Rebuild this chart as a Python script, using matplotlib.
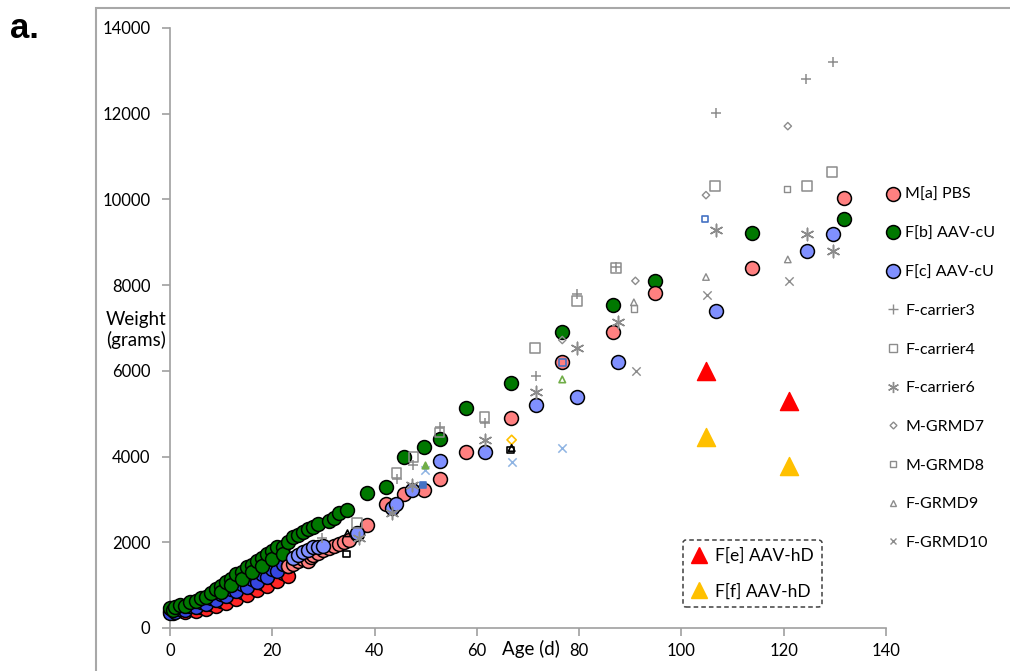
import numpy as np
import matplotlib.pyplot as plt
from matplotlib.lines import Line2D
from matplotlib.patches import Rectangle

plt.rcParams['font.family'] = ['Lato', 'DejaVu Sans']

# ---- data (age in days, weight in grams) ----
# M[a] PBS
pbs_early_age = [0, 0.5, 1, 2, 3, 4, 5, 6, 7, 8, 9, 10, 11, 12, 13, 14, 15, 16,
                 17, 18, 19, 20, 21, 22, 23]
pbs_early_w = [400, 360, 420, 420, 380, 440, 400, 480, 450, 560, 510, 640, 580,
               740, 680, 840, 780, 950, 880, 1060, 980, 1180, 1100, 1290, 1220]
pbs_age = [23, 24, 25, 26, 27, 27.5, 28, 29, 30, 31, 32, 33, 34, 35, 36.5, 38.6,
           42.3, 45.7, 49.6, 52.7, 57.8, 66.7, 76.7, 86.6, 94.8, 113.8, 131.7]
pbs_w = [1440, 1500, 1560, 1610, 1560, 1650, 1700, 1760, 1820, 1870, 1920, 1960,
         2000, 2050, 2200, 2400, 2900, 3130, 3220, 3480, 4110, 4900, 6200, 6900,
         7820, 8400, 10030]

# F[b] AAV-cU
cub_age = [0, 0.5, 1, 2, 3, 4, 5, 6, 7, 8, 9, 10, 10, 11, 12, 12, 13, 14, 14, 15,
           16, 16, 17, 18, 18, 19, 20, 20, 21, 22, 22, 23, 24, 25, 26, 27, 28, 29,
           31, 32, 33, 34.7, 38.6, 42.3, 45.7, 49.6, 52.7, 57.8, 66.7, 76.7, 86.6,
           94.8, 113.8, 131.7]
cub_w = [470, 430, 500, 540, 520, 600, 620, 700, 720, 820, 900, 980, 850, 1080,
         1150, 1000, 1250, 1300, 1150, 1420, 1480, 1300, 1560, 1640, 1450, 1720,
         1800, 1600, 1880, 1900, 1720, 2000, 2130, 2180, 2250, 2300, 2360, 2420,
         2500, 2560, 2680, 2750, 3150, 3300, 3990, 4220, 4410, 5130, 5720, 6900,
         7540, 8100, 9220, 9540]

# F[c] AAV-cU
cuc_early_age = [0, 0.5, 1, 2, 3, 4, 5, 6, 7, 8, 9, 10, 11, 12, 13, 14, 15, 16,
                 17, 18, 19, 20, 21, 22, 23]
cuc_early_w = [350, 420, 380, 450, 430, 520, 480, 600, 560, 700, 650, 800, 750,
               920, 860, 1020, 960, 1140, 1080, 1260, 1200, 1380, 1320, 1500, 1440]
cuc_age = [24, 25, 26, 27, 28, 29, 30, 36.5, 43.5, 44.1, 47.4, 52.7, 61.5, 71.6,
           79.6, 87.6, 106.7, 124.5, 129.6]
cuc_w = [1640, 1700, 1780, 1830, 1880, 1900, 1920, 2210, 2800, 2900, 3220, 3900,
         4110, 5200, 5390, 6200, 7400, 8800, 9190]

# carriers and GRMD dogs
car3_age = [29.7, 44.3, 47.6, 52.7, 61.5, 71.6, 79.6, 87.2, 106.7, 124.3, 129.6]
car3_w = [2100, 3480, 3800, 4700, 4780, 5880, 7790, 8420, 12020, 12800, 13200]
car4_age = [36.5, 44.3, 47.6, 52.7, 61.5, 71.4, 79.6, 87.2, 106.5, 124.5, 129.4]
car4_w = [2450, 3620, 3990, 4560, 4920, 6530, 7630, 8400, 10310, 10310, 10640]
car6_age = [36.9, 43.5, 47.4, 61.5, 71.6, 79.6, 87.6, 106.7, 124.5, 129.6]
car6_w = [2100, 2690, 3340, 4390, 5510, 6530, 7140, 9290, 9190, 8800]
grmd7_age = [76.7, 91.0, 104.8, 120.8]
grmd7_w = [6720, 8100, 10100, 11710]
grmd8_age = [90.7, 120.6]
grmd8_w = [7450, 10240]
grmd9_age = [90.7, 104.8, 120.8]
grmd9_w = [7600, 8190, 8600]
grmd10_age = [91.1, 105.0, 121.0]
grmd10_w = [6000, 7780, 8100]

# odd coloured single readings
odd_age = [66.8, 66.8, 66.6, 66.8, 76.7, 49.8, 76.7, 49.8, 49.4, 76.7, 104.6, 34.5, 34.7]
odd_w = [4390, 4200, 4150, 3870, 4200, 3690, 5800, 3800, 3340, 6200, 9540, 1730, 2210]
odd_mk = ['D', '^', 's', 'x', 'x', 'x', '^', '^', 's', 's', 's', 's', '^']
odd_col = ['#ffc000', 'black', 'black', '#8fb4e3', '#8fb4e3', '#8fb4e3', '#70ad47',
           '#70ad47', '#4472c4', '#4472c4', '#4472c4', 'black', 'black']
odd_fill = [False, False, False, False, False, False, False, True, True, False,
            False, False, False]

# AAV-hD
hde_age = [104.8, 121.0]
hde_w = [6000, 5300]
hdf_age = [104.8, 121.0]
hdf_w = [4460, 3780]

pink = '#ff8080'
green = '#007800'
blue = '#8090ff'
gray = '#8c8c8c'

fig = plt.figure(figsize=(10.1, 6.71), dpi=100)
ax = fig.add_axes([170/1010, 1-628/671, 716/1010, 600/671])

circ = dict(marker='o', s=100, edgecolors='black', linewidths=1.1, clip_on=False, zorder=3)
ax.scatter(pbs_early_age, pbs_early_w, c='#ff2525', **circ)
ax.scatter(cuc_early_age, cuc_early_w, c='#3546e0', **circ)
ax.scatter(cub_age, cub_w, c=green, **circ)
ax.scatter(pbs_age, pbs_w, c=pink, **circ)
ax.scatter(cuc_age, cuc_w, c=blue, **circ)

ax.scatter(car3_age, car3_w, marker='+', s=60, c=gray, linewidths=1.1, zorder=4)
ax.scatter(car4_age, car4_w, marker='s', s=50, facecolors='none', edgecolors=gray, linewidths=1.1, zorder=4)
ax.scatter(car6_age, car6_w, marker=(6, 2, 0), s=80, c=gray, linewidths=1.1, zorder=4)
ax.scatter(grmd7_age, grmd7_w, marker='D', s=14, facecolors='none', edgecolors=gray, linewidths=1, zorder=4)
ax.scatter(grmd8_age, grmd8_w, marker='s', s=22, facecolors='none', edgecolors=gray, linewidths=1, zorder=4)
ax.scatter(grmd9_age, grmd9_w, marker='^', s=22, facecolors='none', edgecolors=gray, linewidths=1, zorder=4)
ax.scatter(grmd10_age, grmd10_w, marker='x', s=36, c=gray, linewidths=1, zorder=4)
for a, w, m, c, f in zip(odd_age, odd_w, odd_mk, odd_col, odd_fill):
    if m == 'x':
        ax.scatter(a, w, marker=m, s=36, c=c, linewidths=1.1, zorder=5)
    else:
        ax.scatter(a, w, marker=m, s=22, facecolors=c if f else 'none', edgecolors=c,
                   linewidths=1.2, zorder=5)

ax.scatter(hde_age, hde_w, marker='^', s=170, c='#ff0000', zorder=4)
ax.scatter(hdf_age, hdf_w, marker='^', s=170, c='#ffc000', zorder=4)

ax.set_xlim(0, 140)
ax.set_ylim(0, 14000)
ax.set_xticks(np.arange(0, 141, 20))
ax.set_yticks(np.arange(0, 14001, 2000))
for s in ['top', 'right']:
    ax.spines[s].set_visible(False)
for s in ['left', 'bottom']:
    ax.spines[s].set_color('#a0a0a0')
    ax.spines[s].set_linewidth(1.2)
ax.tick_params(axis='both', direction='out', length=6, width=1.2, color='#a0a0a0',
               labelsize=12)
ax.tick_params(axis='y', pad=8)
ax.tick_params(axis='x', pad=5)

fig.text(531/1010, 1-649/671, 'Age (d)', fontsize=13.5, ha='center', va='center',
         bbox=dict(facecolor='white', edgecolor='none', pad=1))
fig.text(136/1010, 1-330/671, 'Weight\n(grams)', fontsize=13.5, ha='center', va='center',
         linespacing=1.15)
fig.text(10/1010, 1-28/671, 'a.', fontsize=25, fontweight='bold', ha='left', va='center',
         family=['Liberation Sans', 'DejaVu Sans'])

# frame around the panel
fig.add_artist(Rectangle((96/1010, -0.02), 1.0, 1-8/671 + 0.02, transform=fig.transFigure,
                         facecolor='none', edgecolor='#a8a8a8', linewidth=1.5))

h1 = [
    Line2D([], [], ls='none', marker='o', ms=10, mfc=pink, mec='black', mew=1.1),
    Line2D([], [], ls='none', marker='o', ms=10, mfc=green, mec='black', mew=1.1),
    Line2D([], [], ls='none', marker='o', ms=10, mfc=blue, mec='black', mew=1.1),
    Line2D([], [], ls='none', marker='+', ms=7, mec=gray, mew=1),
    Line2D([], [], ls='none', marker='s', ms=6, mfc='none', mec=gray, mew=1),
    Line2D([], [], ls='none', marker=(6, 2, 0), ms=8, mec=gray, mew=1),
    Line2D([], [], ls='none', marker='D', ms=3.5, mfc='none', mec=gray, mew=1),
    Line2D([], [], ls='none', marker='s', ms=4.5, mfc='none', mec=gray, mew=1),
    Line2D([], [], ls='none', marker='^', ms=4.5, mfc='none', mec=gray, mew=1),
    Line2D([], [], ls='none', marker='x', ms=5, mec=gray, mew=1),
]
l1 = ['M[a] PBS', 'F[b] AAV-cU', 'F[c] AAV-cU', 'F-carrier3', 'F-carrier4', 'F-carrier6',
      'M-GRMD7', 'M-GRMD8', 'F-GRMD9', 'F-GRMD10']
fig.legend(h1, l1, loc='upper left', bbox_to_anchor=(887/1010, 1-188/671), frameon=False,
           fontsize=11.5, labelspacing=1.53, handlelength=0.8, handletextpad=0.35,
           borderpad=0, borderaxespad=0)

h2 = [Line2D([], [], ls='none', marker='^', ms=12, mfc='#ff0000', mec='#ff0000'),
      Line2D([], [], ls='none', marker='^', ms=12, mfc='#ffc000', mec='#ffc000')]
leg2 = ax.legend(h2, ['F[e] AAV-hD', 'F[f] AAV-hD'], loc='upper left',
                 bbox_to_anchor=(683/1010, 1-540/671), bbox_transform=fig.transFigure,
                 fontsize=12.5, labelspacing=1.1, handlelength=1.0, handletextpad=0.4,
                 borderpad=0.45, borderaxespad=0, fancybox=True, framealpha=1)
fr = leg2.get_frame()
fr.set_edgecolor('#404040')
fr.set_linestyle((0, (3, 2)))
fr.set_linewidth(1.1)

fig.savefig('out.png', dpi=100)
